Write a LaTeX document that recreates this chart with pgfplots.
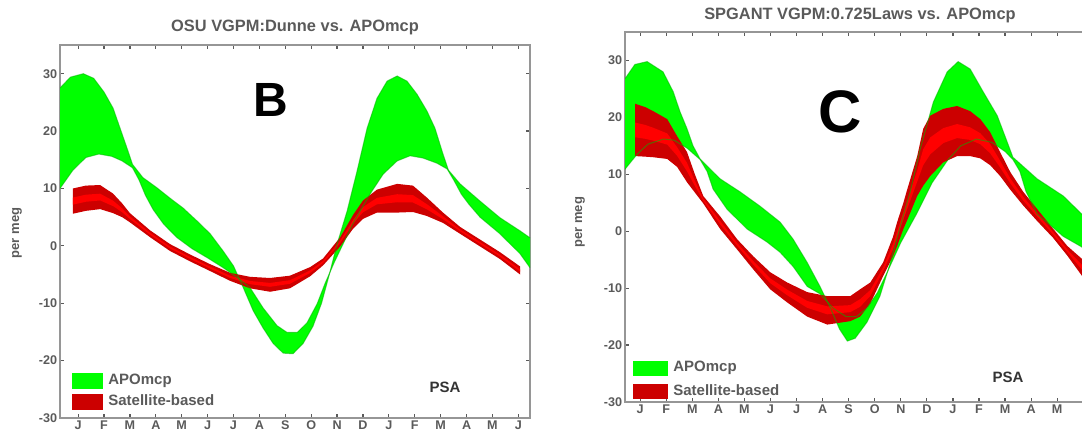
\documentclass[border=0pt]{standalone}
\usepackage{pgfplots}
\usepackage{pgfplotstable}
\pgfplotsset{compat=1.18}
\usepgfplotslibrary{fillbetween}
\usepackage{fontspec}
\setmainfont{Liberation Sans}

\definecolor{apogreen}{RGB}{0,255,0}
\definecolor{apogreenedge}{RGB}{0,185,0}
\definecolor{satred}{RGB}{204,0,0}
\definecolor{satredhi}{RGB}{255,0,0}
\definecolor{framegray}{RGB}{150,150,150}
\definecolor{textgray}{RGB}{90,90,90}

% APOmcp envelope, OSU panel (two bounding curves)
\pgfplotstableread{
m v
0.30 27.5
0.70 29.4
1.20 30.0
1.60 29.2
2.00 26.8
2.35 24.0
2.62 20.5
2.89 17.0
3.10 14.2
3.50 11.9
4.05 10.1
4.55 8.3
5.05 6.6
5.60 4.3
6.10 2.1
6.60 -0.9
7.00 -3.5
7.35 -7.0
7.76 -11.3
8.14 -14.3
8.53 -17.0
8.92 -18.7
9.30 -18.8
9.69 -17.0
10.07 -14.0
10.40 -10.0
10.70 -5.0
11.00 0.3
11.39 6.1
11.77 13.0
12.16 20.5
12.54 25.7
12.93 28.7
13.32 29.6
13.70 28.7
14.09 26.4
14.47 23.5
14.78 20.5
15.09 16.0
15.30 13.2
15.75 10.8
16.52 7.8
17.29 4.9
18.07 2.6
18.45 1.4
}\leftA
\pgfplotstableread{
m v
0.30 10.0
0.80 13.2
1.30 15.4
1.80 16.0
2.30 15.6
2.70 14.8
3.10 13.6
3.35 11.5
3.60 8.8
3.90 6.3
4.30 3.8
4.80 1.5
5.40 -0.5
6.00 -2.1
6.60 -3.8
7.14 -5.5
7.64 -7.3
8.14 -10.8
8.68 -13.9
9.07 -15.1
9.46 -15.1
9.84 -13.4
10.23 -10.1
10.54 -6.5
10.90 -2.8
11.25 0.5
11.60 3.8
12.27 9.0
12.78 12.5
13.32 14.8
13.82 15.7
14.32 15.3
14.86 14.4
15.25 13.4
15.50 11.5
15.80 9.0
16.10 7.2
16.52 5.0
17.29 2.1
18.07 -1.4
18.45 -3.8
}\leftB
% satellite-based envelope, OSU panel
\pgfplotstableread{
m lo hi
0.80 5.6 10.0
1.30 6.1 10.5
1.85 6.4 10.6
2.35 5.7 9.1
2.70 5.0 7.4
3.00 4.1 5.7
3.78 1.5 2.7
4.55 -0.9 0.3
5.32 -2.7 -1.5
6.10 -4.4 -3.2
6.87 -6.1 -4.7
7.64 -7.4 -5.4
8.41 -8.0 -5.6
9.18 -7.4 -5.2
9.96 -5.3 -3.7
10.46 -3.4 -2.2
11.12 -0.1 1.5
11.62 3.0 5.4
12.00 4.7 7.9
12.54 5.8 9.8
13.32 5.8 10.8
13.93 5.9 10.5
14.47 5.2 8.4
15.09 4.0 5.8
15.75 2.1 3.3
16.52 -0.1 1.1
17.29 -2.3 -1.1
18.07 -5.0 -3.6
}\leftRed

% APOmcp envelope, SPGANT panel
\pgfplotstableread{
m v
0.42 26.8
0.80 29.3
1.27 29.8
1.88 28.0
2.27 24.5
2.53 21.0
2.80 18.0
3.03 15.0
3.30 12.7
4.07 9.2
4.84 6.9
5.60 4.4
6.37 1.6
6.87 -1.4
7.41 -5.5
7.90 -9.7
8.30 -13.5
8.65 -17.2
8.95 -19.3
9.25 -18.8
9.70 -16.0
10.20 -11.4
10.60 -5.5
10.98 0.9
11.36 6.9
11.74 14.4
12.25 22.7
12.78 28.0
13.20 29.8
13.66 28.5
14.16 24.5
14.70 20.3
15.08 15.7
15.30 13.0
16.23 9.2
17.23 6.2
17.88 3.3
18.45 0.8
}\rightA
\pgfplotstableread{
m v
0.42 10.9
0.88 13.5
1.30 15.3
1.90 16.2
2.30 16.0
2.80 14.6
3.30 12.6
3.57 10.5
3.80 7.4
4.33 3.9
5.10 0.4
5.87 -1.9
6.37 -3.7
6.87 -6.2
7.41 -9.7
7.90 -11.0
8.40 -13.5
8.90 -15.0
9.30 -15.0
9.70 -13.5
10.10 -10.8
10.50 -7.0
11.00 -2.0
11.60 3.0
12.20 8.5
12.80 12.5
13.30 15.0
13.90 16.2
14.50 15.6
15.00 14.0
15.30 12.6
15.57 10.5
15.80 7.0
16.23 3.0
16.80 0.8
17.23 -0.9
17.88 -2.6
18.45 -4.2
}\rightB
% satellite-based envelope, SPGANT panel
\pgfplotstableread{
m lo hi
0.81 13.2 22.4
1.20 13.1 21.8
1.50 13.0 21.1
2.04 12.7 19.7
2.42 11.3 16.7
2.80 8.6 13.9
3.10 6.8 10.0
3.42 4.9 6.2
4.07 0.4 2.6
4.72 -3.2 -1.4
5.34 -6.7 -4.4
5.99 -10.2 -7.2
6.64 -12.5 -9.0
7.41 -15.0 -10.7
8.18 -16.4 -11.4
9.06 -15.8 -11.4
9.44 -15.0 -10.2
9.83 -12.7 -9.0
10.32 -7.9 -5.5
10.70 -4.4 -1.0
10.86 -2.6 1.6
11.10 0.4 5.0
11.25 2.0 7.4
11.63 6.2 13.2
11.86 8.0 18.0
12.13 9.7 20.3
12.63 12.1 21.5
13.16 13.2 22.0
13.66 13.2 21.1
14.05 12.8 19.7
14.43 11.6 17.4
14.81 9.7 13.9
15.20 7.3 10.4
15.70 4.5 6.9
16.23 1.8 3.9
16.85 -1.2 0.4
17.39 -4.3 -2.6
17.96 -7.9 -4.9
18.30 -9.5 -6.2
}\rightRed

\pgfplotsset{
  apo/.style={
    scale only axis,
    width=235pt,
    xmax=18.45, ymin=-30, ymax=35,
    ytick={-30,-20,...,30},
    tick pos=both,
    tick align=inside,
    major tick length=2pt,
    tick style={textgray, line width=0.6pt},
    axis line style={framegray, line width=1.1pt},
    /pgf/number format/assume math mode=true,
    tick label style={font=\bfseries\fontsize{6.3}{7}\selectfont, text=textgray},
    xticklabel style={inner sep=1pt},
    yticklabel style={inner sep=1.2pt},
    ylabel={per meg},
    ylabel style={font=\bfseries\fontsize{6.5}{7}\selectfont, text=textgray, anchor=center},
    every axis title/.style={font=\bfseries\fontsize{8.2}{9}\selectfont, text=textgray, anchor=center},
    legend style={draw=none, fill=none, anchor=north west, inner sep=0pt,
      font=\bfseries\fontsize{7.5}{8}\selectfont, text=textgray,
      nodes={inner sep=0.5pt},
      /tikz/every odd column/.append style={column sep=2pt}},
    legend cell align=left,
  },
  greenedge/.style={apogreenedge, line width=0.5pt, opacity=0.55, forget plot},
}

\begin{document}
\begin{tikzpicture}

\begin{axis}[apo,
  at={(30pt,8pt)}, anchor=south west,
  height=186.5pt, xmin=0.3,
  xtick={1,...,18},
  xticklabels={J,F,M,A,M,J,J,A,S,O,N,D,J,F,M,A,M,J},
  title={OSU VGPM:Dunne vs. APOmcp},
  title style={at={(axis description cs:0.5,1.048)}},
  ylabel style={at={(axis description cs:-0.0915,0.496)}},
  legend style={at={(0.0255,0.123)}, row sep=2.5pt},
  legend image code/.code={\fill[#1] (0pt,-4pt) rectangle (15.5pt,4pt);},
]
\addplot[greenedge, name path=LA] table[x=m, y=v] {\leftA};
\addplot[greenedge, name path=LB] table[x=m, y=v] {\leftB};
\addplot[fill=apogreen, draw=none, forget plot] fill between[of=LA and LB];
\addplot[draw=none, name path=Lhi, forget plot] table[x=m, y=hi] {\leftRed};
\addplot[draw=none, name path=Llo, forget plot] table[x=m, y=lo] {\leftRed};
\addplot[fill=satred, draw=none, forget plot] fill between[of=Lhi and Llo];
\addplot[draw=none, name path=Lih, forget plot] table[x=m, y expr={\thisrow{lo}+0.64*(\thisrow{hi}-\thisrow{lo})}] {\leftRed};
\addplot[draw=none, name path=Lil, forget plot] table[x=m, y expr={\thisrow{lo}+0.36*(\thisrow{hi}-\thisrow{lo})}] {\leftRed};
\addplot[fill=satredhi, draw=none, forget plot] fill between[of=Lih and Lil];
\addlegendimage{fill=apogreen, draw=none}
\addlegendentry{APOmcp}
\addlegendimage{fill=satred, draw=none}
\addlegendentry{Satellite-based}
\node[font=\bfseries\fontsize{24}{24}\selectfont] at (axis description cs:0.449,0.853) {B};
\node[font=\bfseries\fontsize{7.5}{8}\selectfont, text=black!80] at (axis description cs:0.819,0.083) {PSA};
\end{axis}

\begin{axis}[apo,
  at={(312.5pt,16pt)}, anchor=south west,
  height=185pt, xmin=0.42,
  xtick={1,...,17},
  xticklabels={J,F,M,A,M,J,J,A,S,O,N,D,J,F,M,A,M},
  title={SPGANT VGPM:0.725Laws vs. APOmcp},
  title style={at={(axis description cs:0.5,1.046)}},
  ylabel style={at={(axis description cs:-0.0957,0.486)}},
  legend style={at={(0.017,0.1135)}, row sep=4pt},
  legend image code/.code={\fill[#1] (0pt,-3.75pt) rectangle (17.5pt,3.75pt);},
]
\addplot[greenedge, name path=RA] table[x=m, y=v] {\rightA};
\addplot[greenedge, name path=RB] table[x=m, y=v] {\rightB};
\addplot[fill=apogreen, draw=none, forget plot] fill between[of=RA and RB];
\addplot[draw=none, name path=Rhi, forget plot] table[x=m, y=hi] {\rightRed};
\addplot[draw=none, name path=Rlo, forget plot] table[x=m, y=lo] {\rightRed};
\addplot[fill=satred, draw=none, forget plot] fill between[of=Rhi and Rlo];
\addplot[draw=none, name path=Rih, forget plot] table[x=m, y expr={\thisrow{lo}+0.64*(\thisrow{hi}-\thisrow{lo})}] {\rightRed};
\addplot[draw=none, name path=Ril, forget plot] table[x=m, y expr={\thisrow{lo}+0.36*(\thisrow{hi}-\thisrow{lo})}] {\rightRed};
\addplot[fill=satredhi, draw=none, forget plot] fill between[of=Rih and Ril];
\addlegendimage{fill=apogreen, draw=none}
\addlegendentry{APOmcp}
\addlegendimage{fill=satred, draw=none}
\addlegendentry{Satellite-based}
\node[font=\bfseries\fontsize{30}{30}\selectfont] at (axis description cs:0.457,0.784) {C};
\node[font=\bfseries\fontsize{7.5}{8}\selectfont, text=black!80] at (axis description cs:0.815,0.0676) {PSA};
\end{axis}

\pgfresetboundingbox
\path[use as bounding box] (0pt,0pt) rectangle (541pt,217pt);
\end{tikzpicture}
\end{document}
